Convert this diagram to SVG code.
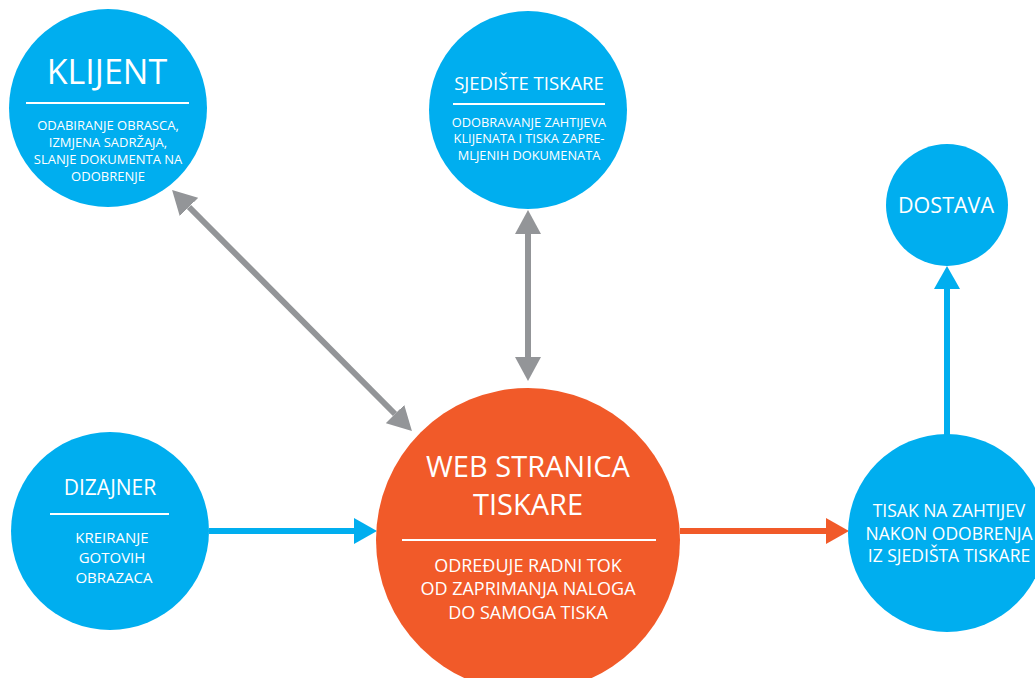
<svg xmlns="http://www.w3.org/2000/svg" width="1035" height="678" viewBox="0 0 1035 678">
<style>
.blue{fill:#00AEEF}
.orange{fill:#F15A29}
.t{font-family:"Open Sans","Liberation Sans",sans-serif;fill:#fff;text-anchor:middle}
.b{font-weight:500}
.rule{stroke:#fff;stroke-width:2}
.c{fill:none;stroke-width:6}
</style>
<defs>
<marker id="ag" markerUnits="userSpaceOnUse" markerWidth="26" markerHeight="26" refX="0" refY="13" orient="auto-start-reverse" viewBox="0 0 26 26"><path d="M0,0 L24,13 L0,26 z" fill="#939598"/></marker>
<marker id="ab" markerUnits="userSpaceOnUse" markerWidth="26" markerHeight="26" refX="0" refY="13" orient="auto-start-reverse" viewBox="0 0 26 26"><path d="M0,0 L23,13 L0,26 z" fill="#00AEEF"/></marker>
<marker id="ao" markerUnits="userSpaceOnUse" markerWidth="26" markerHeight="26" refX="0" refY="13" orient="auto-start-reverse" viewBox="0 0 26 26"><path d="M0,0 L23,13 L0,26 z" fill="#F15A29"/></marker>
</defs>
<rect width="1035" height="678" fill="#fff"/>
<g id="connectors">
<line class="c" stroke="#939598" x1="189" y1="207" x2="395" y2="414" marker-start="url(#ag)" marker-end="url(#ag)"/>
<line class="c" stroke="#939598" x1="528" y1="234" x2="528" y2="357" marker-start="url(#ag)" marker-end="url(#ag)"/>
<line class="c" stroke="#00AEEF" x1="209" y1="531" x2="354" y2="531" marker-end="url(#ab)"/>
<line class="c" stroke="#F15A29" x1="680" y1="531" x2="826" y2="531" marker-end="url(#ao)"/>
<line class="c" stroke="#00AEEF" x1="947" y1="436" x2="947" y2="289" marker-end="url(#ab)"/>
</g>
<g id="klijent">
<circle class="blue" cx="108" cy="108" r="99"/>
<text class="t" x="107" y="84" font-size="34">KLIJENT</text>
<line class="rule" x1="26" y1="103" x2="189" y2="103"/>
<text class="t b" font-size="13"><tspan x="108" y="130">ODABIRANJE OBRASCA,</tspan><tspan x="108" y="147">IZMJENA SADRŽAJA,</tspan><tspan x="108" y="164">SLANJE DOKUMENTA NA</tspan><tspan x="108" y="181">ODOBRENJE</tspan></text>
</g>
<g id="sjediste">
<circle class="blue" cx="528" cy="110" r="99"/>
<text class="t" x="529" y="90" font-size="18.5">SJEDIŠTE TISKARE</text>
<line class="rule" x1="453" y1="104" x2="605" y2="104"/>
<text class="t b" font-size="12.8"><tspan x="529" y="127">ODOBRAVANJE ZAHTIJEVA</tspan><tspan x="529" y="143">KLIJENATA I TISKA ZAPRE-</tspan><tspan x="529" y="160">MLJENIH DOKUMENATA</tspan></text>
</g>
<g id="dostava">
<circle class="blue" cx="947" cy="205" r="61"/>
<text class="t" x="946" y="213" font-size="21.5">DOSTAVA</text>
</g>
<g id="dizajner">
<circle class="blue" cx="110" cy="531" r="99"/>
<text class="t" x="110" y="495" font-size="21">DIZAJNER</text>
<line class="rule" x1="50" y1="514" x2="169" y2="514"/>
<text class="t b" font-size="15"><tspan x="112" y="543">KREIRANJE</tspan><tspan x="112" y="563">GOTOVIH</tspan><tspan x="114" y="583">OBRAZACA</tspan></text>
</g>
<g id="web">
<circle class="orange" cx="528" cy="540" r="152"/>
<text class="t" font-size="29"><tspan x="528" y="477">WEB STRANICA</tspan><tspan x="528" y="515">TISKARE</tspan></text>
<line class="rule" x1="402" y1="540" x2="656" y2="540"/>
<text class="t b" font-size="18"><tspan x="528" y="572">ODREĐUJE RADNI TOK</tspan><tspan x="528" y="595">OD ZAPRIMANJA NALOGA</tspan><tspan x="528" y="619">DO SAMOGA TISKA</tspan></text>
</g>
<g id="tisak">
<circle class="blue" cx="947" cy="533" r="99"/>
<text class="t b" font-size="17.5"><tspan x="949" y="517">TISAK NA ZAHTIJEV</tspan><tspan x="949" y="540">NAKON ODOBRENJA</tspan><tspan x="949" y="562">IZ SJEDIŠTA TISKARE</tspan></text>
</g>
</svg>
